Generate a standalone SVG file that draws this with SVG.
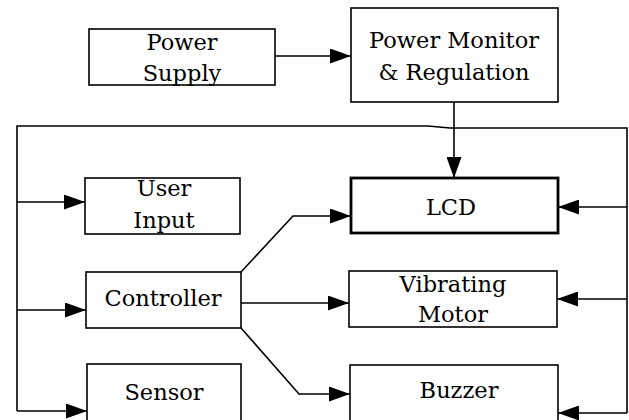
<svg xmlns="http://www.w3.org/2000/svg" width="629" height="420" viewBox="0 0 629 420">
<defs>
<marker id="arr" markerUnits="userSpaceOnUse" markerWidth="21" markerHeight="15" refX="21" refY="7.5" orient="auto">
<path d="M0,0 L21,7.5 L0,15 z" fill="#000"/>
</marker>
<style>
.box{fill:#fff;stroke:#000;stroke-width:1.6}
.thick{stroke-width:2.8}
.t{font-family:"DejaVu Serif","Liberation Serif",serif;font-size:22.5px;fill:#000;text-anchor:middle}
.c{fill:none;stroke:#000;stroke-width:1.6}
.a{marker-end:url(#arr)}
</style>
</defs>
<rect width="629" height="420" fill="#fff"/>
<g id="connectors">
<path class="c a" d="M275,56 H351"/>
<path class="c a" d="M454,102 V178"/>
<path class="c" d="M17,411 V126 H428 L450,128 H627 V413"/>
<path class="c a" d="M17,202 H85"/>
<path class="c a" d="M17,310 H86"/>
<path class="c a" d="M17,411 H87"/>
<path class="c a" d="M627,207 H558"/>
<path class="c a" d="M627,299 H557"/>
<path class="c a" d="M627,413 H558"/>
<path class="c a" d="M241,272 L293,216 H351"/>
<path class="c a" d="M241,303 H349"/>
<path class="c a" d="M241,328 L299,394 H350"/>
</g>
<g id="power-supply">
<rect class="box" x="89" y="29" width="186" height="56"/>
<text class="t" x="182" y="50">Power</text>
<text class="t" x="182" y="81">Supply</text>
</g>
<g id="power-monitor">
<rect class="box" x="351" y="8" width="207" height="94"/>
<text class="t" x="454" y="48">Power Monitor</text>
<text class="t" x="454" y="80">&amp; Regulation</text>
</g>
<g id="user-input">
<rect class="box" x="85" y="178" width="155" height="56"/>
<text class="t" x="164" y="196">User</text>
<text class="t" x="164" y="228">Input</text>
</g>
<g id="lcd">
<rect class="box thick" x="351" y="178" width="207" height="55"/>
<text class="t" x="451" y="215">LCD</text>
</g>
<g id="controller">
<rect class="box" x="86" y="272" width="155" height="56"/>
<text class="t" x="163" y="306">Controller</text>
</g>
<g id="vibrating-motor">
<rect class="box" x="349" y="271" width="208" height="56"/>
<text class="t" x="453" y="292">Vibrating</text>
<text class="t" x="453" y="322">Motor</text>
</g>
<g id="sensor">
<rect class="box" x="87" y="364" width="154" height="62"/>
<text class="t" x="164" y="400">Sensor</text>
</g>
<g id="buzzer">
<rect class="box" x="350" y="365" width="208" height="61"/>
<text class="t" x="459" y="398">Buzzer</text>
</g>
</svg>
